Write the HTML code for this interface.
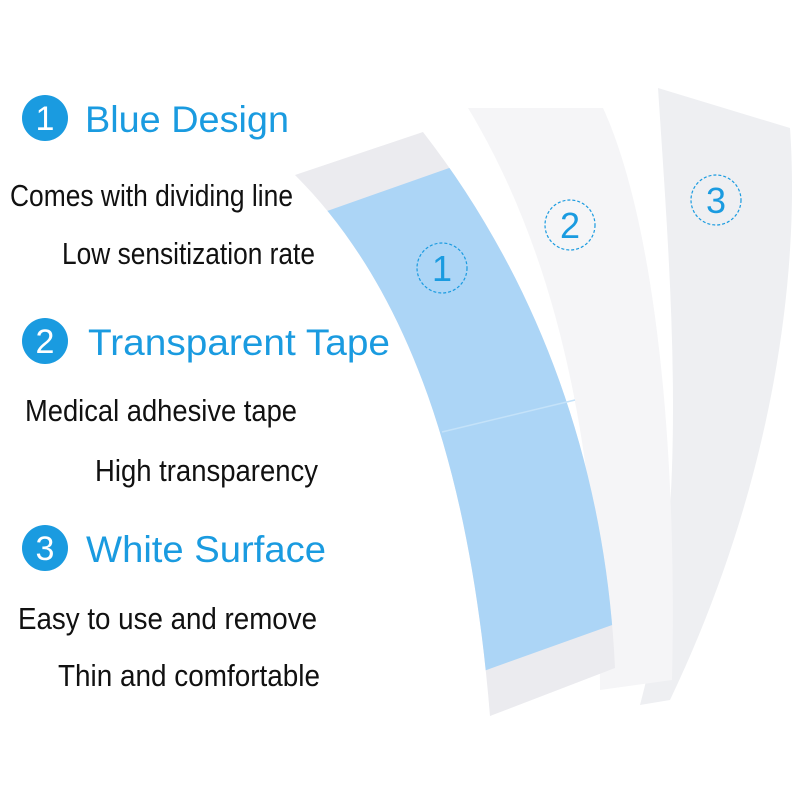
<!DOCTYPE html>
<html><head><meta charset="utf-8"><style>html,body{margin:0;padding:0;background:#fff}</style></head>
<body>
<svg width="800" height="800" viewBox="0 0 800 800" xmlns="http://www.w3.org/2000/svg">
<rect width="800" height="800" fill="#fff"/>
<!-- strip 3 -->
<path d="M658,88 L790,128 C800,270 775,480 670,700 L640,705 C690,520 672,300 658,88 Z" fill="#eeeff2"/>
<!-- strip 2 -->
<path d="M468,108 L603,108 C650,210 678,420 672,680 L600,690 C600,460 560,260 468,108 Z" fill="#f5f5f7"/>
<!-- strip 1 -->
<path d="M295,175 L423,132 C530,270 605,450 615,668 L490,716 C470,470 410,290 295,175 Z" fill="#ebebef"/>
<clipPath id="c1"><path d="M295,175 L423,132 C530,270 605,450 615,668 L490,716 C470,470 410,290 295,175 Z"/></clipPath>
<path d="M300,220 L330,210 L452,167 L620,110 L640,615 L492,668 L470,676 L300,740 Z" fill="#acd5f6" clip-path="url(#c1)"/>
<path d="M442,432 L575,400" stroke="#c4e2f9" stroke-width="1.5"/>
<!-- dashed number circles -->
<g fill="none" stroke="#1a9be0" stroke-width="1.2" stroke-dasharray="3,2">
<circle cx="442" cy="268" r="25"/><circle cx="570" cy="225" r="25"/><circle cx="716" cy="200" r="25"/>
</g>
<g font-family="Liberation Sans, sans-serif" font-size="36" fill="#1a9be0" text-anchor="middle">
<text x="442" y="281">1</text><text x="570" y="238">2</text><text x="716" y="213">3</text>
</g>
<!-- headings -->
<g fill="#1a9be0">
<circle cx="45" cy="118" r="23"/><circle cx="45" cy="341" r="23"/><circle cx="45" cy="548" r="23"/>
</g>
<g font-family="Liberation Sans, sans-serif" font-size="34" fill="#fff" text-anchor="middle">
<text x="45" y="130">1</text><text x="45" y="353">2</text><text x="45" y="560">3</text>
</g>
<g font-family="Liberation Sans, sans-serif" font-size="37" fill="#1a9be0">
<text x="85" y="132" textLength="204" lengthAdjust="spacingAndGlyphs">Blue Design</text>
<text x="88" y="355" textLength="302" lengthAdjust="spacingAndGlyphs">Transparent Tape</text>
<text x="86" y="562" textLength="240" lengthAdjust="spacingAndGlyphs">White Surface</text>
</g>
<g font-family="Liberation Sans Narrow, Liberation Sans, sans-serif" font-size="31" fill="#111">
<text x="10" y="206" textLength="283" lengthAdjust="spacingAndGlyphs">Comes with dividing line</text>
<text x="62" y="264" textLength="253" lengthAdjust="spacingAndGlyphs">Low sensitization rate</text>
<text x="25" y="421" textLength="272" lengthAdjust="spacingAndGlyphs">Medical adhesive tape</text>
<text x="95" y="481" textLength="223" lengthAdjust="spacingAndGlyphs">High transparency</text>
<text x="18" y="629" textLength="299" lengthAdjust="spacingAndGlyphs">Easy to use and remove</text>
<text x="58" y="686" textLength="262" lengthAdjust="spacingAndGlyphs">Thin and comfortable</text>
</g>
</svg>
</body></html>
